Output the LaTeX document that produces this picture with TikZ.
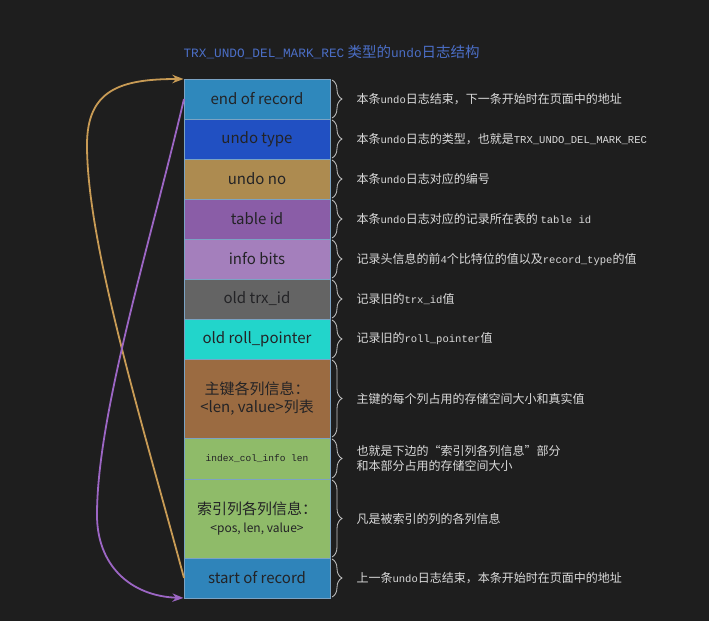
\documentclass[tikz,border=0pt]{standalone}
\usepackage{fontspec}
\setmainfont{Liberation Sans}
\setmonofont[Scale=0.88]{Liberation Mono}
\newfontfamily\cjk{Noto Sans CJK SC}
\usepackage{xcolor}
\usetikzlibrary{arrows.meta,positioning,decorations.pathreplacing}

\definecolor{bgdark}{HTML}{1E1E1E}
\definecolor{titleblue}{HTML}{4B6EC6}
\definecolor{notetext}{HTML}{DADADA}
\definecolor{bracegray}{HTML}{C8C8C8}
\definecolor{fieldline}{HTML}{7BA3C4}
\definecolor{fieldtext}{HTML}{232326}
\definecolor{eorblue}{HTML}{2F88BC}
\definecolor{utypeblue}{HTML}{2150C2}
\definecolor{unogold}{HTML}{AD8B50}
\definecolor{tidpurple}{HTML}{8A5DA7}
\definecolor{ibitslilac}{HTML}{A47FBC}
\definecolor{otrxgray}{HTML}{646464}
\definecolor{orollcyan}{HTML}{22D5CB}
\definecolor{pkbrown}{HTML}{9B6B41}
\definecolor{idxgreen}{HTML}{8FBB69}
\definecolor{sorblue}{HTML}{2F84BA}
\definecolor{linkgold}{HTML}{C89B55}
\definecolor{linkpurple}{HTML}{9C66C4}

\newcommand{\en}[1]{{\ttfamily #1}}

\begin{document}
\begin{tikzpicture}[
  x=1pt, y=-1pt, >=Stealth,
  field/.style={draw=fieldline, line width=0.8pt, outer sep=0pt, inner sep=0pt, minimum width=146pt, minimum height=40pt, font=\cjk\fontsize{15}{18}\selectfont, text=fieldtext, align=center},
  note/.style={anchor=west, font=\cjk\fontsize{12}{15}\selectfont, text=notetext, align=left},
  notebrace/.style={draw=bracegray, line width=0.8pt, decorate, decoration={brace, amplitude=10pt}},
  link/.style={->, line width=1.8pt, shorten >=0.5pt}
]

\fill[bgdark] (0,0) rectangle (709,621);

\node[anchor=west, text=titleblue, font=\cjk\fontsize{14.5}{17}\selectfont] (title) at (180,52) {\en{TRX\_UNDO\_DEL\_MARK\_REC} 类型的\en{undo}日志结构};

\node[field, fill=eorblue] (eor) at (257,99) {end of record};
\node[field, fill=utypeblue, below=0pt of eor] (utype) {undo type};
\node[field, fill=unogold, below=0pt of utype] (uno) {undo no};
\node[field, fill=tidpurple, below=0pt of uno] (tid) {table id};
\node[field, fill=ibitslilac, below=0pt of tid] (ibits) {info bits};
\node[field, fill=otrxgray, below=0pt of ibits] (otrx) {old trx\_id};
\node[field, fill=orollcyan, below=0pt of otrx] (oroll) {old roll\_pointer};
\node[field, fill=pkbrown, minimum height=79pt, below=0pt of oroll] (pkcols) {主键各列信息：\\<len, value>列表};
\node[field, fill=idxgreen, minimum height=41pt, font=\ttfamily\fontsize{10.8}{13}\selectfont, below=0pt of pkcols] (idxlen) {index\_col\_info len};
\node[field, fill=idxgreen, minimum height=79pt, below=0pt of idxlen] (idxcols) {索引列各列信息：\\{\fontsize{12}{14}\selectfont <pos, len, value>}};
\node[field, fill=sorblue, below=0pt of idxcols] (sor) {start of record};

\draw[notebrace] ([xshift=2pt,yshift=-1pt]eor.north east) -- ([xshift=2pt,yshift=1pt]eor.south east);
\draw[notebrace] ([xshift=2pt,yshift=-1pt]utype.north east) -- ([xshift=2pt,yshift=1pt]utype.south east);
\draw[notebrace] ([xshift=2pt,yshift=-1pt]uno.north east) -- ([xshift=2pt,yshift=1pt]uno.south east);
\draw[notebrace] ([xshift=2pt,yshift=-1pt]tid.north east) -- ([xshift=2pt,yshift=1pt]tid.south east);
\draw[notebrace] ([xshift=2pt,yshift=-1pt]ibits.north east) -- ([xshift=2pt,yshift=1pt]ibits.south east);
\draw[notebrace] ([xshift=2pt,yshift=-1pt]otrx.north east) -- ([xshift=2pt,yshift=1pt]otrx.south east);
\draw[notebrace] ([xshift=2pt,yshift=-1pt]oroll.north east) -- ([xshift=2pt,yshift=1pt]oroll.south east);
\draw[notebrace] ([xshift=2pt,yshift=-1pt]pkcols.north east) -- ([xshift=2pt,yshift=1pt]pkcols.south east);
\draw[notebrace] ([xshift=2pt,yshift=-1pt]idxlen.north east) -- ([xshift=2pt,yshift=1pt]idxlen.south east);
\draw[notebrace] ([xshift=2pt,yshift=-1pt]idxcols.north east) -- ([xshift=2pt,yshift=1pt]idxcols.south east);
\draw[notebrace] ([xshift=2pt,yshift=-1pt]sor.north east) -- ([xshift=2pt,yshift=1pt]sor.south east);

\node[note] (eornote) at ([xshift=23pt]eor.east) {本条\en{undo}日志结束，下一条开始时在页面中的地址};
\node[note] (utypenote) at ([xshift=23pt]utype.east) {本条\en{undo}日志的类型，也就是\en{TRX\_UNDO\_DEL\_MARK\_REC}};
\node[note] (unonote) at ([xshift=23pt]uno.east) {本条\en{undo}日志对应的编号};
\node[note] (tidnote) at ([xshift=23pt]tid.east) {本条\en{undo}日志对应的记录所在表的 \en{table id}};
\node[note] (ibitsnote) at ([xshift=23pt]ibits.east) {记录头信息的前\en{4}个比特位的值以及\en{record\_type}的值};
\node[note] (otrxnote) at ([xshift=23pt]otrx.east) {记录旧的\en{trx\_id}值};
\node[note] (orollnote) at ([xshift=23pt]oroll.east) {记录旧的\en{roll\_pointer}值};
\node[note] (pkcolsnote) at ([xshift=23pt]pkcols.east) {主键的每个列占用的存储空间大小和真实值};
\node[note] (idxlennote) at ([xshift=23pt]idxlen.east) {也就是下边的“索引列各列信息”部分\\和本部分占用的存储空间大小};
\node[note] (idxcolsnote) at ([xshift=23pt]idxcols.east) {凡是被索引的列的各列信息};
\node[note] (sornote) at ([xshift=23pt]sor.east) {上一条\en{undo}日志结束，本条开始时在页面中的地址};

\draw[link, linkgold] (sor.west) .. controls (143.5,427) and (87,245) .. (87,145) .. controls (87,90) and (120,79) .. (eor.north west);
\draw[link, linkpurple] (eor.west) .. controls (148.6,249) and (97,415) .. (97,515) .. controls (97,565) and (130,596) .. (sor.south west);

\end{tikzpicture}
\end{document}
